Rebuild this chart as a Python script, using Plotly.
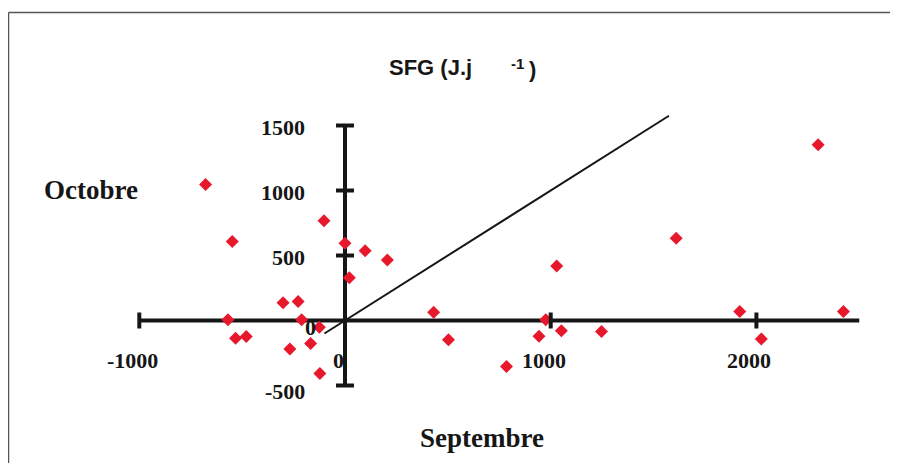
import plotly.graph_objects as go

# ---- data ----
septembre = [-678, -548, -102, 0, 98, 206, 21, -301, -228, -569, -211, -125,
             -532, -480, -268, -167, -122, 431, 503, 785, 976, 943, 1052,
             1029, 1247, 1610, 1919, 2024, 2300, 2423]
octobre = [1047, 607, 767, 594, 537, 465, 328, 137, 147, 5, 5, -52,
           -137, -124, -220, -176, -408, 64, -148, -354, 5, -121, -78,
           419, -85, 633, 70, -142, 1351, 70]

line_x = [-100, 1575]          # 1:1 line
line_y = [-100, 1575]

x_axis_span = [-1000, 2500]
y_axis_span = [-500, 1500]
x_ticks = [-1000, 0, 1000, 2000]
y_ticks = [-500, 0, 500, 1000, 1500]
x_tick_labels = ["-1000", "0", "1000", "2000"]
y_tick_labels = ["-500", "0", "500", "1000", "1500"]

OFF = 8                        # page body margin
W, H = 898 - 2 * OFF, 471 - 2 * OFF   # fit inside the window, no scrollbars
X0PX, XSC = 345.0 - OFF, 0.2057   # figure pixel of x=0, px per unit
Y0PX, YSC = 320.5 - OFF, 0.13

x_range = [-X0PX / XSC, (W - X0PX) / XSC]
y_range = [-(H - Y0PX) / YSC, Y0PX / YSC]


def px(xp):
    return (xp - OFF) / W


def py(yp):
    return 1 - (yp - OFF) / H


serif = "Liberation Serif"
sans = "Liberation Sans"
ink = "#161616"

fig = go.Figure()

# axes through origin
fig.add_trace(go.Scatter(x=x_axis_span, y=[0, 0], mode="lines",
                         line=dict(color=ink, width=4), hoverinfo="skip"))
fig.add_trace(go.Scatter(x=[0, 0], y=y_axis_span, mode="lines",
                         line=dict(color=ink, width=4), hoverinfo="skip"))
# 1:1 line
fig.add_trace(go.Scatter(x=line_x, y=line_y, mode="lines",
                         line=dict(color=ink, width=2), hoverinfo="skip"))
# points
fig.add_trace(go.Scatter(x=septembre, y=octobre, mode="markers",
                         marker=dict(symbol="diamond", size=10, color="#e8182c",
                                     line=dict(width=0)),
                         cliponaxis=False))

shapes = []
for t in x_ticks:
    if t == 0:
        continue
    shapes.append(dict(type="line", xref="x", yref="y", x0=t, x1=t,
                       ysizemode="pixel", yanchor=0, y0=-8, y1=8,
                       line=dict(color=ink, width=4)))
for t in y_ticks:
    if t == 0:
        continue
    shapes.append(dict(type="line", xref="x", yref="y", y0=t, y1=t,
                       xsizemode="pixel", xanchor=0, x0=-9, x1=9,
                       line=dict(color=ink, width=4)))
# frame of the scanned figure (only top & left edges visible)
shapes.append(dict(type="line", xref="paper", yref="paper",
                   x0=px(8.5), x1=px(8.5), y0=-0.1, y1=py(12.5),
                   line=dict(color="#555555", width=1.5), layer="below"))
shapes.append(dict(type="line", xref="paper", yref="paper",
                   x0=px(8.5), x1=1.1, y0=py(12.5), y1=py(12.5),
                   line=dict(color="#555555", width=1.5), layer="below"))

ann = []
tick_font = dict(family=serif, size=22, color=ink)
for t, lab in zip(x_ticks, x_tick_labels):
    ann.append(dict(x=t, y=0, xref="x", yref="y", text="<b>%s</b>" % lab,
                    showarrow=False, font=tick_font, xshift=-7, yshift=-40))
for t, lab in zip(y_ticks, y_tick_labels):
    if t == 0:
        ann.append(dict(x=t, y=t, xref="x", yref="y", text="<b>%s</b>" % lab,
                        showarrow=False, font=tick_font, xshift=-35, yshift=-7))
        continue
    ann.append(dict(x=0, y=t, xref="x", yref="y", text="<b>%s</b>" % lab,
                    showarrow=False, font=tick_font, xanchor="right",
                    xshift=-38, yshift=-2 if t > 0 else -6))

ann.append(dict(x=px(91), y=py(190), xref="paper", yref="paper",
                xanchor="center", yanchor="middle",
                text="<b>Octobre</b>", showarrow=False,
                font=dict(family=serif, size=27, color=ink)))
ann.append(dict(x=px(482), y=py(438), xref="paper", yref="paper",
                xanchor="center", yanchor="middle",
                text="<b>Septembre</b>", showarrow=False,
                font=dict(family=serif, size=27, color=ink)))
ann.append(dict(x=px(474), y=py(68), xref="paper", yref="paper",
                xanchor="right", yanchor="middle",
                text="<b>SFG (J.j</b>", showarrow=False,
                font=dict(family=sans, size=22, color=ink)))
ann.append(dict(x=px(509), y=py(63), xref="paper", yref="paper",
                xanchor="left", yanchor="middle",
                text="<b>-1</b>", showarrow=False,
                font=dict(family=sans, size=15, color=ink)))
ann.append(dict(x=px(527), y=py(70), xref="paper", yref="paper",
                xanchor="left", yanchor="middle",
                text="<b>)</b>", showarrow=False,
                font=dict(family=sans, size=22, color=ink)))

fig.update_layout(
    width=W, height=H, autosize=False,
    margin=dict(l=0, r=0, t=0, b=0),
    paper_bgcolor="white", plot_bgcolor="white",
    showlegend=False,
    xaxis=dict(range=x_range, visible=False, fixedrange=True),
    yaxis=dict(range=y_range, visible=False, fixedrange=True),
    shapes=shapes, annotations=ann,
)

fig.write_html("out.html")
